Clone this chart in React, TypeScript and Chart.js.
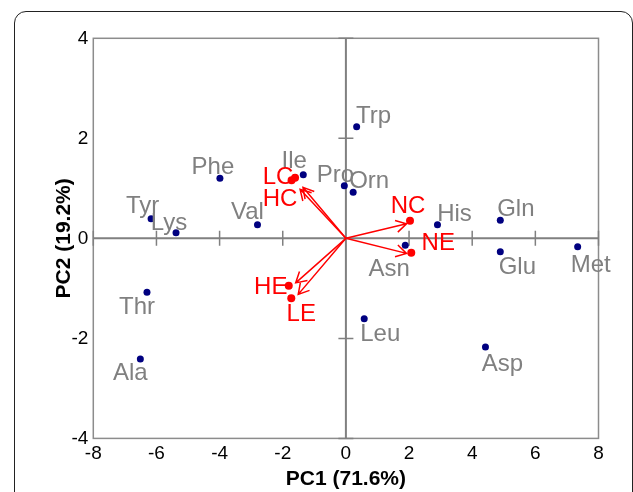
import React, { useEffect, useRef } from 'react';
import { Chart, registerables } from 'chart.js';

Chart.register(...registerables);

const FONT = '"Liberation Sans", Arial, Helvetica, sans-serif';

// Amino-acid scores (blue points)
const aminoAcids = ['Trp', 'Phe', 'Ile', 'Pro', 'Orn', 'Tyr', 'Lys', 'Val', 'His', 'Gln', 'Asn', 'Glu', 'Met', 'Thr', 'Ala', 'Leu', 'Asp'];
const aaPC1 = [0.34, -3.99, -1.35, -0.05, 0.23, -6.17, -5.38, -2.8, 2.9, 4.89, 1.88, 4.89, 7.34, -6.3, -6.51, 0.58, 4.42];
const aaPC2 = [2.23, 1.2, 1.27, 1.05, 0.92, 0.39, 0.11, 0.27, 0.27, 0.36, -0.14, -0.27, -0.17, -1.08, -2.41, -1.61, -2.17];

// Group points (red) and their loading arrows
const groups = ['LC', 'HC', 'NC', 'NE', 'HE', 'LE'];
const groupPC1 = [-1.61, -1.72, 2.03, 2.07, -1.81, -1.73];
const groupPC2 = [1.21, 1.16, 0.35, -0.29, -0.95, -1.2];
const arrowPC1 = [-1.36, -1.45, 1.92, 1.92, -1.59, -1.51];
const arrowPC2 = [1.02, 0.98, 0.29, -0.3, -0.89, -1.12];

// Axes
const xTicks = [-8, -6, -4, -2, 0, 2, 4, 6, 8];
const yTicks = [-4, -2, 0, 2, 4];
const xTitle = 'PC1 (71.6%)';
const yTitle = 'PC2 (19.2%)';

// Label placement offsets (pixels from the point), styling only
const labelOffsets: Record<string, [number, number]> = {
  Trp: [17, -12], Phe: [-7, -12], Ile: [-9, -15], Pro: [-9, -12], Orn: [16, -12],
  Tyr: [-8.5, -14], Lys: [-7, -11], Val: [-10, -14], His: [17, -12], Gln: [15.5, -12],
  Asn: [-16, 23], Glu: [17, 14], Met: [13, 17], Thr: [-10, 14], Ala: [-10, 13],
  Leu: [16, 14], Asp: [17, 16],
  LC: [-17, -2], HC: [-11.5, 17.5], NC: [-2, -16], NE: [27, -11], HE: [-18, 0], LE: [10, 15],
};
const LABEL_DY = 1.5;

export default function App() {
  const ref = useRef<HTMLCanvasElement>(null);

  useEffect(() => {
    const canvas = ref.current;
    if (!canvas) return;

    const decor = {
      id: 'biplotDecor',
      beforeDatasetsDraw(chart: any) {
        const { ctx, chartArea: a, scales } = chart;
        const x = scales.x;
        const y = scales.y;
        ctx.save();
        // frame
        ctx.strokeStyle = '#8c8c8c';
        ctx.lineWidth = 1.5;
        ctx.strokeRect(a.left, a.top, a.right - a.left, a.bottom - a.top);
        // crosshair
        const x0 = x.getPixelForValue(0);
        const y0 = y.getPixelForValue(0);
        ctx.strokeStyle = '#808080';
        ctx.lineWidth = 2;
        ctx.beginPath();
        ctx.moveTo(a.left, y0);
        ctx.lineTo(a.right, y0);
        ctx.moveTo(x0, a.top);
        ctx.lineTo(x0, a.bottom);
        ctx.stroke();
        // ticks on crosshair
        ctx.lineWidth = 1.5;
        ctx.beginPath();
        xTicks.forEach((v) => {
          if (v === 0) return;
          const px = x.getPixelForValue(v);
          ctx.moveTo(px, y0 - 7.5);
          ctx.lineTo(px, y0 + 7.5);
        });
        yTicks.forEach((v) => {
          if (v === 0) return;
          const py = y.getPixelForValue(v);
          ctx.moveTo(x0 - 7.5, py);
          ctx.lineTo(x0 + 7.5, py);
        });
        ctx.stroke();
        // arrows
        ctx.strokeStyle = '#ff0000';
        ctx.lineWidth = 1.5;
        const head = 12;
        const ang = Math.PI / 6;
        groups.forEach((_, i) => {
          const ex = x.getPixelForValue(arrowPC1[i]);
          const ey = y.getPixelForValue(arrowPC2[i]);
          const t = Math.atan2(ey - y0, ex - x0);
          ctx.beginPath();
          ctx.moveTo(x0, y0);
          ctx.lineTo(ex, ey);
          ctx.moveTo(ex - head * Math.cos(t - ang), ey - head * Math.sin(t - ang));
          ctx.lineTo(ex, ey);
          ctx.lineTo(ex - head * Math.cos(t + ang), ey - head * Math.sin(t + ang));
          ctx.stroke();
        });
        ctx.restore();
      },
      afterDatasetsDraw(chart: any) {
        const { ctx, scales } = chart;
        const x = scales.x;
        const y = scales.y;
        ctx.save();
        ctx.font = `24px ${FONT}`;
        ctx.textAlign = 'center';
        ctx.textBaseline = 'middle';
        ctx.fillStyle = '#808080';
        aminoAcids.forEach((n, i) => {
          const [dx, dy] = labelOffsets[n] || [0, 0];
          ctx.fillText(n, x.getPixelForValue(aaPC1[i]) + dx, y.getPixelForValue(aaPC2[i]) + dy + LABEL_DY);
        });
        ctx.fillStyle = '#ff0000';
        groups.forEach((n, i) => {
          const [dx, dy] = labelOffsets[n] || [0, 0];
          ctx.fillText(n, x.getPixelForValue(groupPC1[i]) + dx, y.getPixelForValue(groupPC2[i]) + dy + LABEL_DY);
        });
        ctx.restore();
      },
    };

    const chart = new Chart(canvas, {
      type: 'scatter',
      data: {
        datasets: [
          {
            data: aminoAcids.map((_, i) => ({ x: aaPC1[i], y: aaPC2[i] })),
            pointRadius: 3.5,
            backgroundColor: '#000080',
            borderWidth: 0,
          },
          {
            data: groups.map((_, i) => ({ x: groupPC1[i], y: groupPC2[i] })),
            pointRadius: 4,
            backgroundColor: '#ff0000',
            borderWidth: 0,
          },
        ],
      },
      options: {
        responsive: false,
        animation: false,
        devicePixelRatio: 1,
        layout: { padding: { left: 0, right: 34.5, top: 38.3, bottom: 0 } },
        plugins: { legend: { display: false }, tooltip: { enabled: false } },
        scales: {
          x: {
            type: 'linear',
            min: -8,
            max: 8,
            afterBuildTicks: (s: any) => { s.ticks = xTicks.map((v) => ({ value: v })); },
            afterFit: (s: any) => { s.height = 53.6; },
            grid: { display: false, drawTicks: false },
            border: { display: false },
            ticks: {
              font: { family: FONT, size: 19 },
              color: '#000',
              padding: 4,
              maxRotation: 0,
              autoSkip: false,
              callback: (v: any) => String(v),
            },
            title: {
              display: true,
              text: xTitle,
              color: '#000',
              font: { family: FONT, size: 21, weight: 'bold' },
              padding: { top: 0, bottom: 0 },
            },
          },
          y: {
            type: 'linear',
            min: -4,
            max: 4,
            afterBuildTicks: (s: any) => { s.ticks = yTicks.map((v) => ({ value: v })); },
            afterFit: (s: any) => { s.width = 93.3; },
            grid: { display: false, drawTicks: false },
            border: { display: false },
            ticks: {
              font: { family: FONT, size: 19 },
              color: '#000',
              padding: 5,
              autoSkip: false,
              callback: (v: any) => String(v),
            },
            title: {
              display: true,
              text: yTitle,
              color: '#000',
              font: { family: FONT, size: 21, weight: 'bold' },
              padding: { top: 52, bottom: 0 },
            },
          },
        },
      },
      plugins: [decor],
    } as any);

    return () => chart.destroy();
  }, []);

  return (
    <div style={{ position: 'fixed', left: 0, top: 0, width: 633, height: 492, overflow: 'hidden', background: '#fff' }}>
      <div
        style={{
          position: 'absolute',
          left: 13.5,
          top: 10.5,
          width: 619,
          height: 600,
          boxSizing: 'border-box',
          border: '1.3px solid #222',
          borderRadius: 12,
          pointerEvents: 'none',
        }}
      />
      <canvas ref={ref} width={633} height={492} style={{ position: 'absolute', left: 0, top: 0, display: 'block' }} />
    </div>
  );
}
